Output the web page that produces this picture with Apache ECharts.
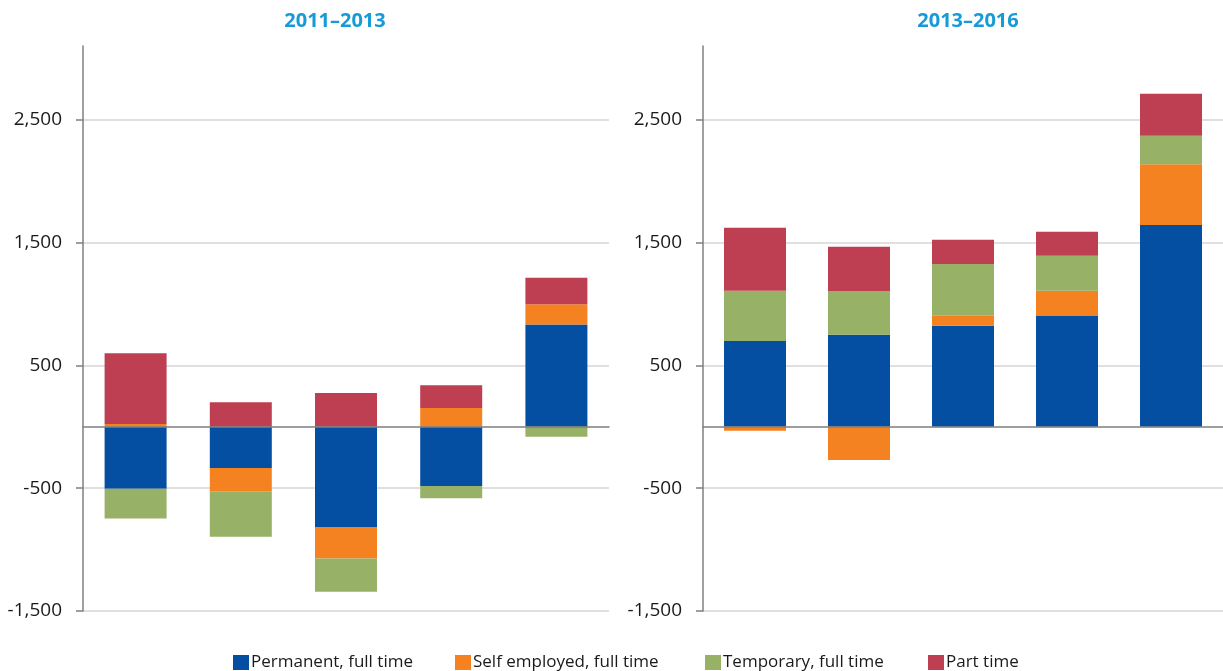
<!DOCTYPE html>
<html>
<head>
<meta charset="utf-8">
<script src="https://cdn.jsdelivr.net/npm/echarts@6/dist/echarts.min.js"></script>
<style>
  html, body { margin: 0; padding: 0; background: #ffffff; }
  #chart { width: 1223px; height: 671px; }
</style>
</head>
<body>
<div id="chart"></div>
<script>
// ---- Data ----
const categories = ['Group 1', 'Group 2', 'Group 3', 'Group 4', 'Group 5'];
const seriesNames = ['Permanent, full time', 'Self employed, full time', 'Temporary, full time', 'Part time'];
const panelTitles = ['2011–2013', '2013–2016'];

// 2011–2013
const permanent1113 = [-505, -336, -817, -483, 833];
const selfEmployed1113 = [22, -190, -255, 152, 164];
const temporary1113 = [-241, -370, -272, -100, -81];
const partTime1113 = [576, 199, 274, 185, 216];

// 2013–2016
const permanent1316 = [698, 750, 822, 901, 1643];
const selfEmployed1316 = [-33, -271, 82, 206, 494];
const temporary1316 = [409, 355, 421, 286, 233];
const partTime1316 = [513, 361, 198, 195, 342];

const yTicks = [-1500, -500, 500, 1500, 2500];
const yMin = -1500;
const yMax = 3100;

// ---- Styling ----
const colors = ['#054fa2', '#f58220', '#97b166', '#be3f51'];
const FONT = '"Open Sans", "Noto Sans", sans-serif';

const panelData = [
  [permanent1113, selfEmployed1113, temporary1113, partTime1113],
  [permanent1316, selfEmployed1316, temporary1316, partTime1316]
];

const grids = [
  { left: 83, top: 46, width: 526, bottom: 60 },
  { left: 703, top: 46, width: 529, bottom: 60 }
];

function fmt(v) {
  return Number(v).toLocaleString('en-US');
}

const xAxes = grids.map((g, i) => ({
  type: 'category',
  gridIndex: i,
  data: categories,
  z: 5,
  axisLine: { show: true, onZero: true, lineStyle: { color: '#7f7f7f', width: 1.5 } },
  axisTick: { show: false },
  axisLabel: { show: false },
  splitLine: { show: false }
}));

const yAxes = grids.map((g, i) => ({
  type: 'value',
  gridIndex: i,
  min: yMin,
  max: yMax,
  interval: 1000,
  axisLine: { show: true, lineStyle: { color: '#7f7f7f', width: 1.5 } },
  axisTick: { show: true, length: 7, customValues: yTicks, lineStyle: { color: '#7f7f7f', width: 1.5 } },
  axisLabel: {
    customValues: yTicks,
    margin: 21,
    color: '#1a1a1a',
    fontSize: 19,
    fontFamily: FONT,
    formatter: fmt
  },
  splitLine: { show: true, lineStyle: { color: '#d6d6d6', width: 1.5 } }
}));

const series = [];
panelData.forEach((arrs, p) => {
  arrs.forEach((vals, k) => {
    series.push({
      name: seriesNames[k],
      type: 'bar',
      xAxisIndex: p,
      yAxisIndex: p,
      stack: 'panel' + p,
      barWidth: 62,
      itemStyle: { color: colors[k] },
      emphasis: { disabled: true },
      data: vals
    });
  });
});

const legendLefts = [233, 455, 705, 928];
const legends = seriesNames.map((n, k) => ({
  data: [n],
  left: legendLefts[k],
  top: 654,
  itemWidth: 16,
  itemHeight: 15,
  itemGap: 0,
  icon: 'rect',
  padding: 0,
  textStyle: { color: '#1a1a1a', fontSize: 17, fontFamily: FONT, padding: [0, 0, 0, -3] }
}));

const titleCenters = [335, 968];
const graphics = panelTitles.map((t, i) => ({
  type: 'text',
  x: titleCenters[i],
  y: 21,
  style: {
    text: t,
    align: 'center',
    verticalAlign: 'middle',
    fill: '#179bd7',
    fontSize: 20,
    fontWeight: 'bold',
    fontFamily: FONT
  }
}));

const chart = echarts.init(document.getElementById('chart'), null, { renderer: 'canvas' });
chart.setOption({
  animation: false,
  color: colors,
  grid: grids,
  xAxis: xAxes,
  yAxis: yAxes,
  legend: legends,
  graphic: graphics,
  series: series
});
</script>
</body>
</html>
